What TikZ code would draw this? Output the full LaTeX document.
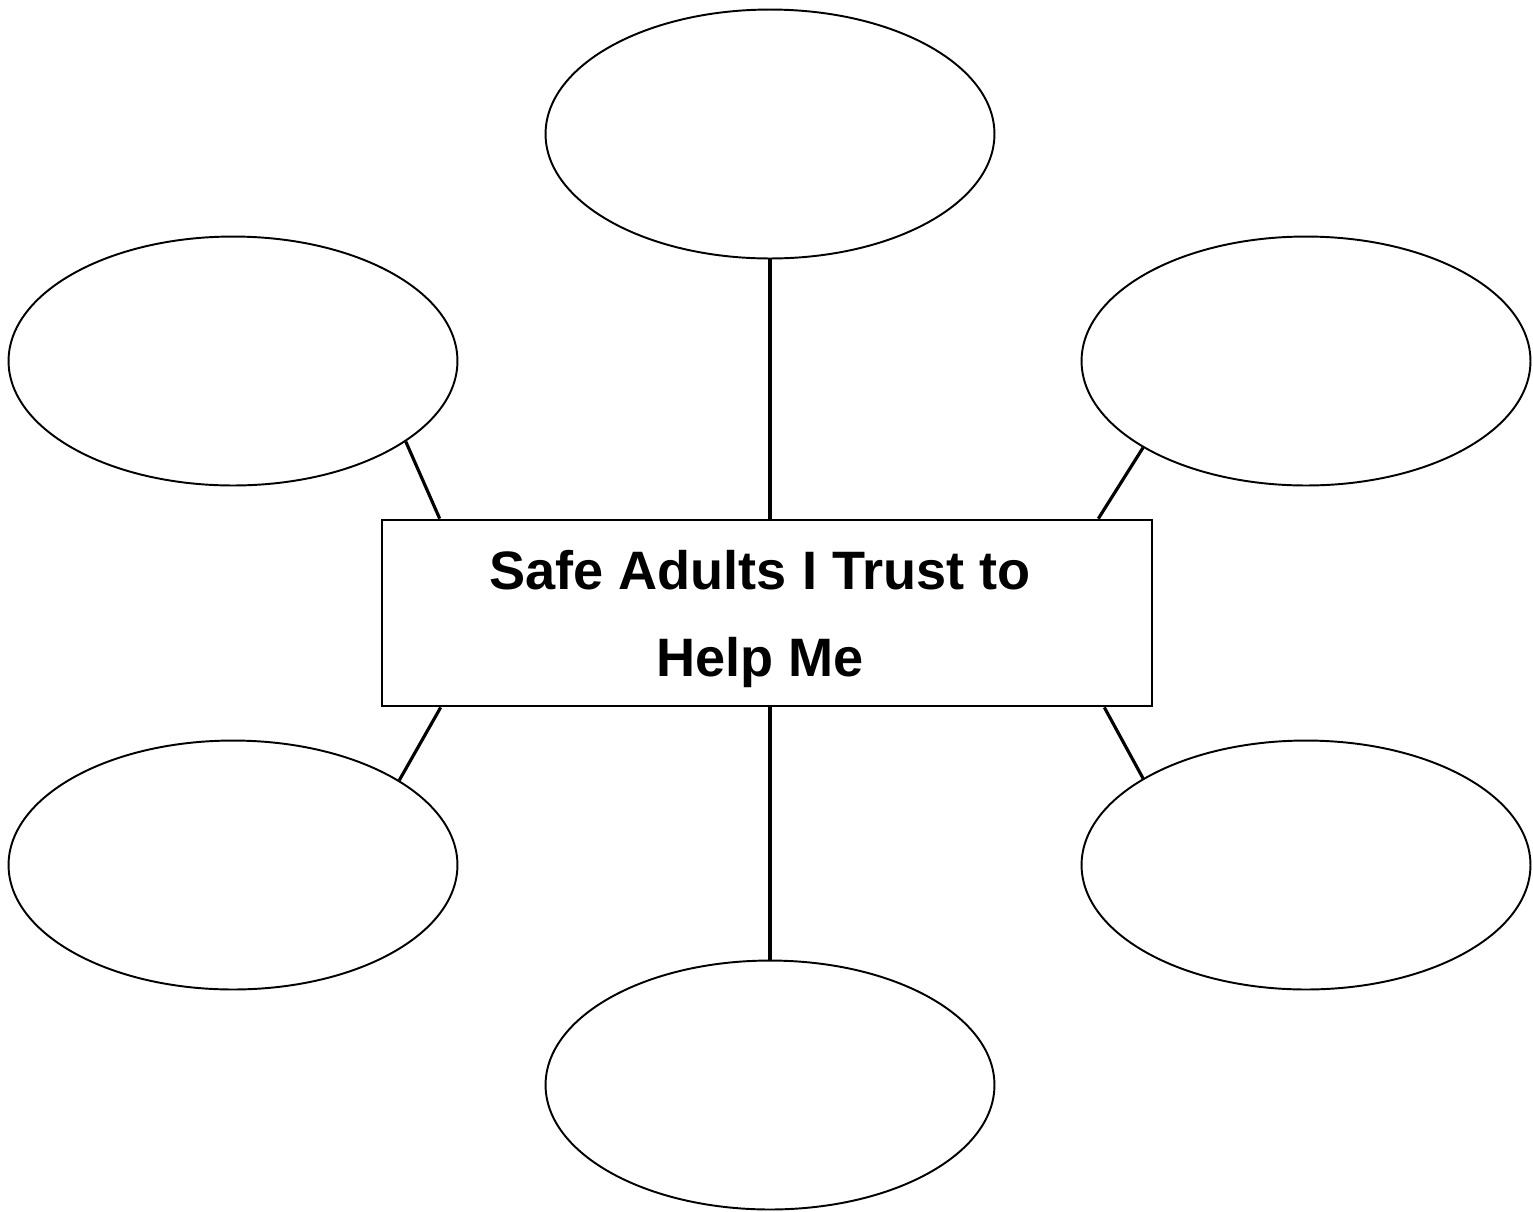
\documentclass[tikz,border=0pt]{standalone}
\usepackage{fontspec}
\setmainfont{Liberation Sans}
\usepackage{tikz}
\usetikzlibrary{calc, positioning, shapes.geometric}

\begin{document}
\begin{tikzpicture}[
  x=0.02cm, y=-0.02cm,
  bubble/.style={draw, ellipse, line width=1.1pt, minimum width=8.98cm, minimum height=4.98cm, inner sep=0pt},
  hubbox/.style={draw, rectangle, line width=1.6pt, minimum width=15.4cm, minimum height=3.72cm, inner sep=0pt},
  title/.style={align=center, inner sep=0pt, font=\fontsize{30.8}{49.5}\selectfont\bfseries},
  spoke/.style={line width=1.8pt}]
  \useasboundingbox (0,0) rectangle (1533,1211);
  % Centre box and its text
  \node[hubbox] (hub) at (767,613) {};
  \node[title] (title) at ($(hub)+(-7,6)$) {Safe Adults I Trust to\\Help Me};
  % Bubbles round it
  \node[bubble] (top) at (770,134)  {};
  \node[bubble] (ul)  at (233,361)  {};
  \node[bubble] (ur)  at (1306,361) {};
  \node[bubble] (ll)  at (233,865)  {};
  \node[bubble] (lr)  at (1306,865) {};
  \node[bubble] (bot) at (770,1085) {};
  % Spokes
  \draw[spoke] (top.south) -- (top.south |- hub.north);
  \draw[spoke] (hub.south -| bot.north) -- (bot.north);
  \draw[spoke] (ul.-25.6)  -- ($(hub.north west)+(59,0)$);
  \draw[spoke] (ur.-152.9) -- ($(hub.north east)+(-55,0)$);
  \draw[spoke] (ll.27.1)   -- ($(hub.south west)+(60,0)$);
  \draw[spoke] (lr.152.8)  -- ($(hub.south east)+(-49,0)$);
\end{tikzpicture}
\end{document}
